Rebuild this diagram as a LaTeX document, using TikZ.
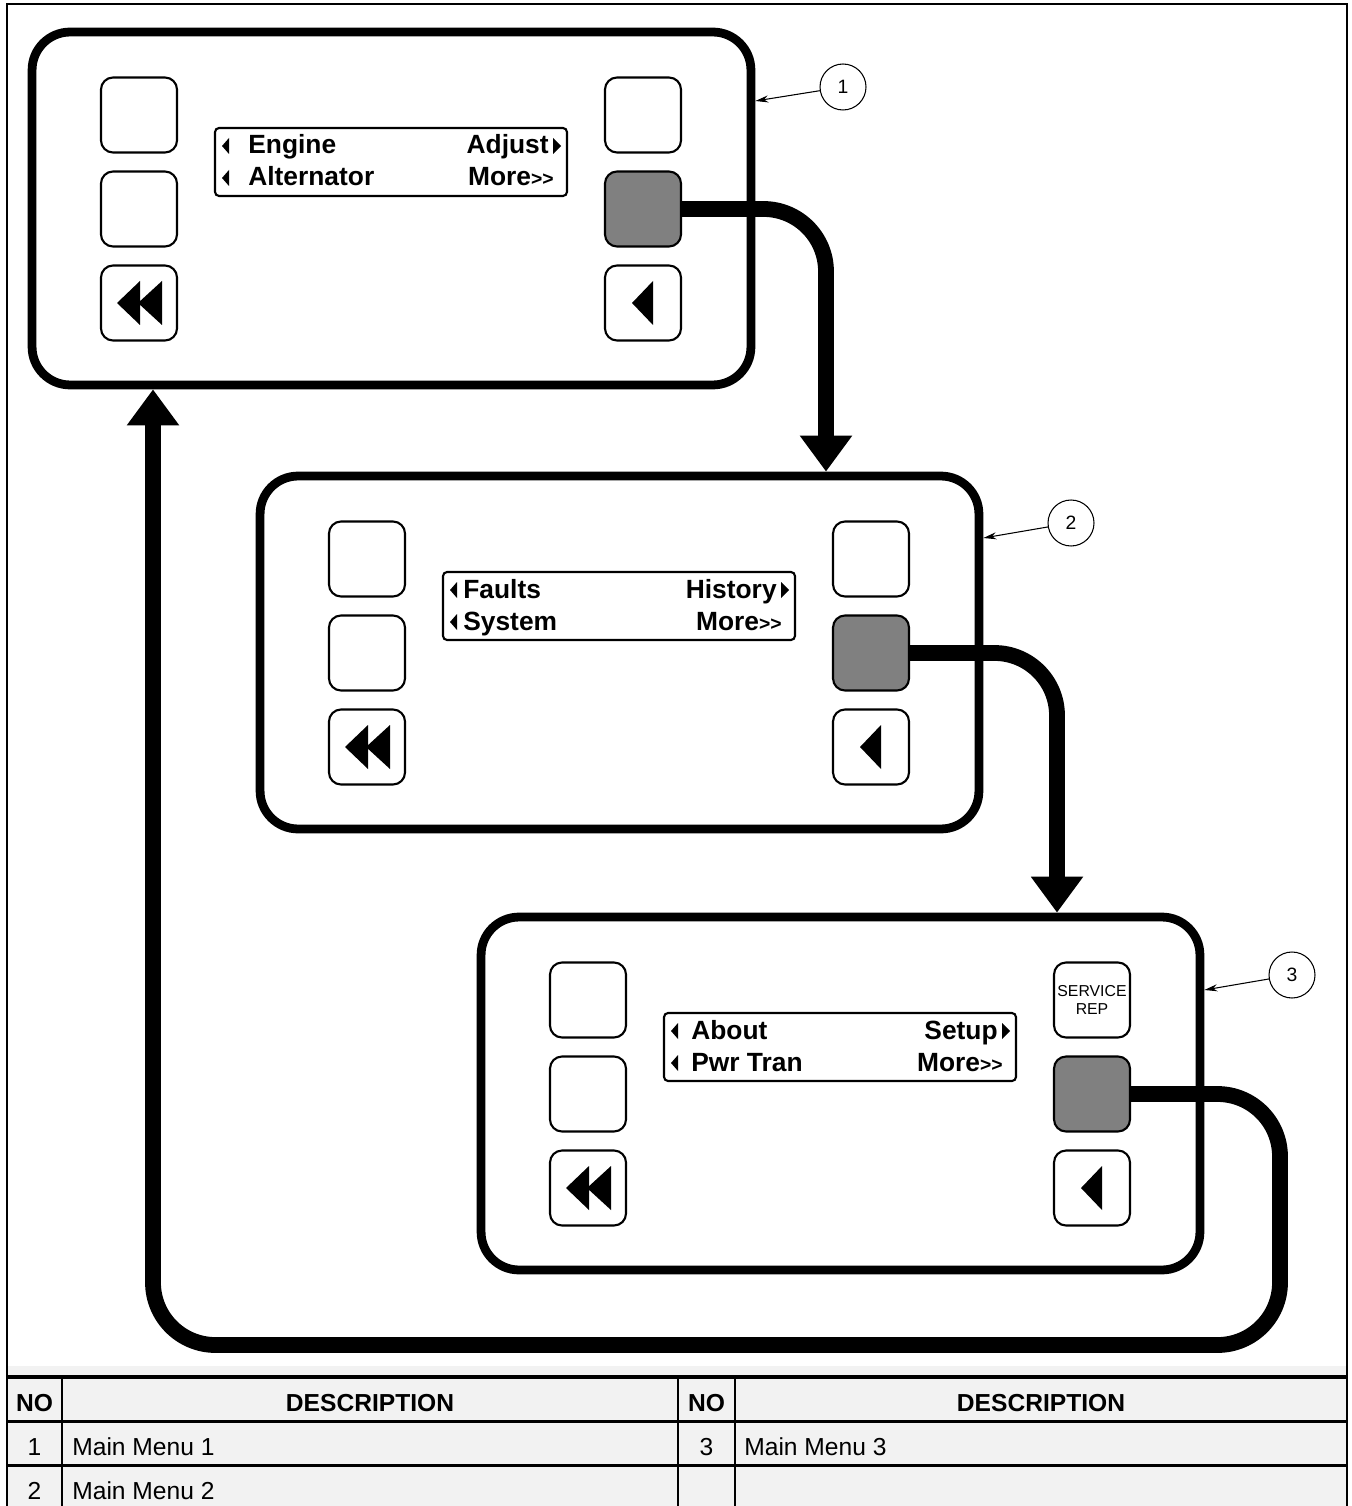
\documentclass[tikz,border=0pt]{standalone}
\usepackage{fontspec}
\setmainfont{Liberation Sans}
\usetikzlibrary{arrows.meta,positioning,calc}
\definecolor{keygray}{HTML}{808080}
\definecolor{tablegray}{HTML}{F2F2F2}
\tikzset{
  panel/.style={draw, line width=5pt, rounded corners=0.76cm,
                minimum width=14.38cm, minimum height=7.06cm},
  key/.style={draw, line width=1.2pt, rounded corners=0.24cm, fill=white,
              minimum width=1.52cm, minimum height=1.5cm},
  hotkey/.style={key, fill=keygray},
  lcd/.style={draw, line width=1.2pt, rounded corners=0.08cm,
              minimum width=7.04cm, minimum height=1.36cm},
  lcdtxt/.style={inner sep=0pt, font=\fontsize{15}{18}\selectfont\bfseries},
  flow/.style={line width=9pt, rounded corners=1.25cm,
               -{Triangle[width=1cm,length=0.72cm]}},
  callout/.style={draw, circle, line width=0.6pt, minimum size=0.92cm,
                  inner sep=0pt, font=\fontsize{11}{13}\selectfont},
  lead/.style={line width=0.6pt, -{Stealth[length=0.26cm,width=0.14cm]}},
  cell/.style={inner sep=0pt, font=\fontsize{14}{16}\selectfont},
  head/.style={cell, font=\fontsize{14}{16}\selectfont\bfseries},
}
\begin{document}
\begin{tikzpicture}[x=0.02cm,y=-0.02cm]
  \useasboundingbox (0,0) rectangle (1351,1506);

  % frame and table background
  \fill[tablegray] (7,1366) rectangle (1347,1506);
  \draw[line width=1.5pt] (7,1512) -- (7,4) -- (1347,4) -- (1347,1512);

  % the three menu screens
  \foreach \i/\ox/\oy/\ul/\ur/\dl/\tx in {1/0/0/Engine/Adjust/Alternator/248,
      2/228/444/Faults/History/System/235, 3/449/885/About/Setup/Pwr Tran/242}{
    \begin{scope}[shift={(\ox,\oy)}]
      \node[panel] (p\i) at (391.5,208.5) {};
      \node[lcd] (d\i) at (391,162) {};
      \node[key] (p\i L1) at (139,115) {};
      \node[key] (p\i L2) at (139,209) {};
      \node[key] (p\i L3) at (139,303) {};
      \node[key] (p\i R1) at (643,115) {};
      \node[hotkey] (p\i R2) at (643,209) {};
      \node[key] (p\i R3) at (643,303) {};
      % back keys
      \fill (117,303) -- (140,281) -- (140,325) -- cycle;
      \fill (138,303) -- (162,281) -- (162,325) -- cycle;
      \fill (632,303) -- (653,281) -- (653,325) -- cycle;
      % display text
      \fill (222,146) -- (229,138) -- (229,154) -- cycle;
      \fill (222,178) -- (229,170) -- (229,186) -- cycle;
      \fill (561,146) -- (553,138) -- (553,154) -- cycle;
      \node[lcdtxt, anchor=base west] (d\i-ul) at (\tx,154) {\ul};
      \node[lcdtxt, anchor=base west] (d\i-dl) at (\tx,186) {\dl};
      \node[lcdtxt, anchor=base east] (d\i-ur) at (549,154) {\ur};
      \node[lcdtxt, anchor=base east] (d\i-dr) at (554,186)
        {More{\fontsize{11}{13}\selectfont>{}>}};
    \end{scope}
  }
  \node[align=center, inner sep=0pt, font=\fontsize{9}{10.5}\selectfont] (srv) at (p3R1) {SERVICE\\REP};

  % menu flow
  \coordinate (a1) at (826,0 |- p2.north);
  \coordinate (a2) at (1057,0 |- p3.north);
  \coordinate (r1) at (1280,1345);
  \coordinate (r2) at (153,1345);
  \coordinate (a3) at (153,0 |- p1.south);
  \draw[flow] (p1R2.east) -| (a1);
  \draw[flow] (p2R2.east) -| (a2);
  \draw[flow] (p3R2.east) -| (r1) -- (r2) -- (a3);

  % callouts
  \node[callout] (c1) at (843,87) {1};
  \node[callout] (c2) at (1071,523) {2};
  \node[callout] (c3) at (1292,975) {3};
  \coordinate (t1) at (p1.east |- 0,101);
  \coordinate (t2) at (p2.east |- 0,538);
  \coordinate (t3) at (p3.east |- 0,990);
  \draw[lead] (c1) -- (t1);
  \draw[lead] (c2) -- (t2);
  \draw[lead] (c3) -- (t3);

  % table
  \draw[line width=2.2pt] (7,1377) -- (1347,1377);
  \draw[line width=1.7pt] (7,1421) -- (1347,1421) (7,1465) -- (1347,1465);
  \draw[line width=1.1pt] (62,1377) -- (62,1512) (678,1377) -- (678,1512)
                          (735,1377) -- (735,1512);
  \node[head] (h1) at (34.5,1403) {NO};
  \node[head] (h2) at (370,1403) {DESCRIPTION};
  \node[head] (h3) at (706.5,1403) {NO};
  \node[head] (h4) at (1041,1403) {DESCRIPTION};
  \node[cell] (n1) at (34.5,1447) {1};
  \node[cell, anchor=west] (m1) at (72,1447) {Main Menu 1};
  \node[cell] (n3) at (706.5,1447) {3};
  \node[cell, anchor=west] (m3) at (744,1447) {Main Menu 3};
  \node[cell] (n2) at (34.5,1491) {2};
  \node[cell, anchor=west] (m2) at (72,1491) {Main Menu 2};
\end{tikzpicture}
\end{document}
